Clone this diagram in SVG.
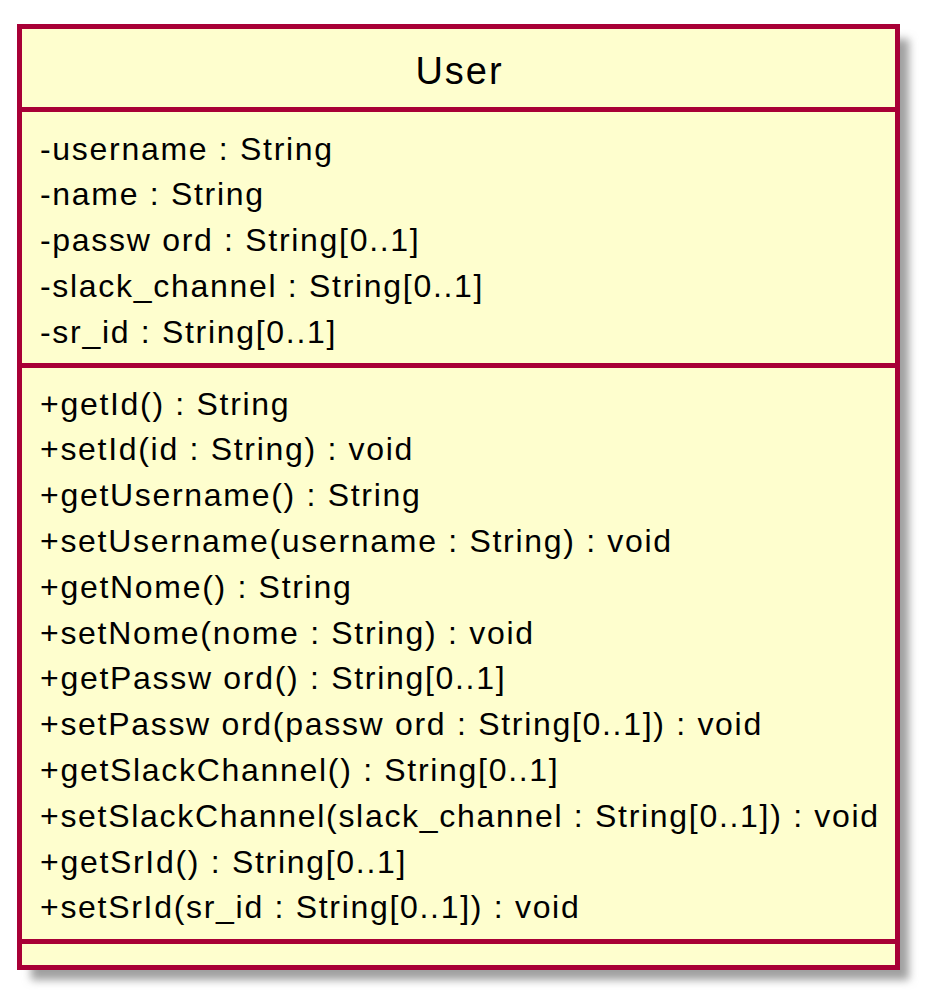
<svg xmlns="http://www.w3.org/2000/svg" width="930" height="1001" viewBox="0 0 930 1001">
<defs>
<filter id="shadow" x="-10%" y="-10%" width="130%" height="130%">
<feGaussianBlur stdDeviation="4"/>
</filter>
<style>
.box{fill:#FEFECE;stroke:#A80036;stroke-width:5}
.div{stroke:#A80036;stroke-width:5}
.t{font-family:"Liberation Sans",Arial,sans-serif;font-size:32px;letter-spacing:1.7px;fill:#000}
.title{font-family:"Liberation Sans",Arial,sans-serif;font-size:38px;letter-spacing:2px;fill:#000;text-anchor:middle}
</style>
</defs>
<g id="User">
<rect x="31" y="39" width="878" height="941" fill="#A0A0A0" filter="url(#shadow)"/>
<rect class="box" x="19.5" y="26.5" width="878" height="941"/>
<line class="div" x1="19.5" y1="109.5" x2="897.5" y2="109.5"/>
<line class="div" x1="19.5" y1="365.5" x2="897.5" y2="365.5"/>
<line class="div" x1="19.5" y1="941.5" x2="897.5" y2="941.5"/>
<text class="title" x="459.5" y="84">User</text>
<text class="t" x="40" y="159.5">-username : String</text>
<text class="t" x="40" y="205.3">-name : String</text>
<text class="t" x="40" y="251.1">-passw ord : String[0..1]</text>
<text class="t" x="40" y="296.9">-slack_channel : String[0..1]</text>
<text class="t" x="40" y="342.7">-sr_id : String[0..1]</text>
<text class="t" x="40" y="414.5">+getId() : String</text>
<text class="t" x="40" y="460.3">+setId(id : String) : void</text>
<text class="t" x="40" y="506.1">+getUsername() : String</text>
<text class="t" x="40" y="551.9">+setUsername(username : String) : void</text>
<text class="t" x="40" y="597.7">+getNome() : String</text>
<text class="t" x="40" y="643.5">+setNome(nome : String) : void</text>
<text class="t" x="40" y="689.3">+getPassw ord() : String[0..1]</text>
<text class="t" x="40" y="735.1">+setPassw ord(passw ord : String[0..1]) : void</text>
<text class="t" x="40" y="780.9">+getSlackChannel() : String[0..1]</text>
<text class="t" x="40" y="826.7">+setSlackChannel(slack_channel : String[0..1]) : void</text>
<text class="t" x="40" y="872.5">+getSrId() : String[0..1]</text>
<text class="t" x="40" y="918.3">+setSrId(sr_id : String[0..1]) : void</text>
</g>
</svg>
